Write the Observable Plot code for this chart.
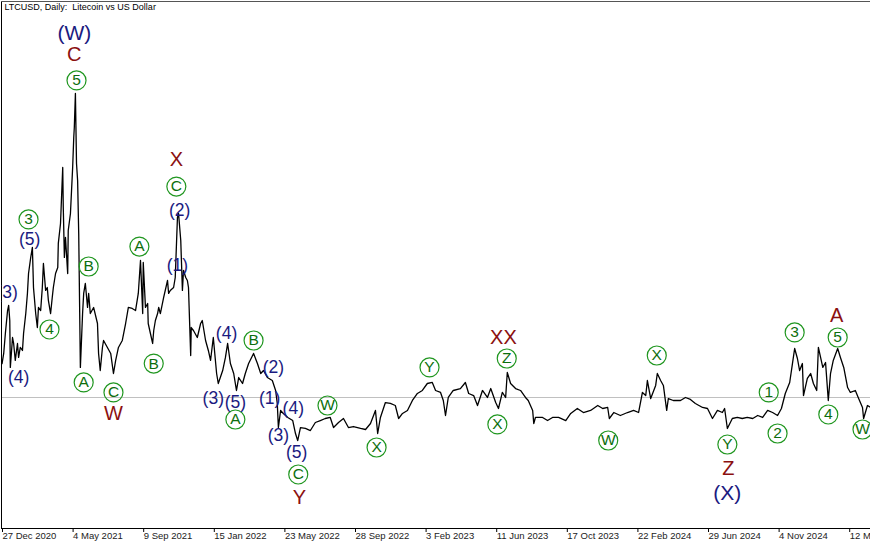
<!DOCTYPE html>
<html><head><meta charset="utf-8">
<script src="https://cdn.jsdelivr.net/npm/d3@7"></script>
<script src="https://cdn.jsdelivr.net/npm/@observablehq/plot@0.6"></script>
<style>
html,body{margin:0;padding:0;background:#fff}
#chart{width:870px;height:545px;overflow:hidden}
</style>
</head><body><div id="chart"></div>
<script>
const title = "LTCUSD, Daily:\u00a0 Litecoin vs US Dollar";

const dates = [
"2020-12-28","2020-12-31","2021-01-03","2021-01-07","2021-01-09","2021-01-11","2021-01-12","2021-01-16","2021-01-18","2021-01-21",
"2021-01-25","2021-01-27","2021-01-30","2021-02-03","2021-02-05","2021-02-09","2021-02-12","2021-02-14","2021-02-18","2021-02-21",
"2021-02-23","2021-02-27","2021-03-02","2021-03-04","2021-03-08","2021-03-11","2021-03-13","2021-03-17","2021-03-20","2021-03-22",
"2021-03-26","2021-03-29","2021-03-31","2021-04-04","2021-04-08","2021-04-09","2021-04-13","2021-04-17","2021-04-18","2021-04-20",
"2021-04-22","2021-04-26","2021-04-27","2021-05-01","2021-05-05","2021-05-07","2021-05-08","2021-05-10","2021-05-12","2021-05-14",
"2021-05-16","2021-05-19","2021-05-23","2021-05-25","2021-05-28","2021-06-01","2021-06-03","2021-06-06","2021-06-12","2021-06-19",
"2021-06-21","2021-06-24","2021-06-28","2021-06-30","2021-07-07","2021-07-13","2021-07-18","2021-07-22","2021-07-27","2021-08-03",
"2021-08-09","2021-08-14","2021-08-21","2021-08-27","2021-09-01","2021-09-05","2021-09-09","2021-09-10","2021-09-14","2021-09-18",
"2021-09-19","2021-09-23","2021-09-27","2021-09-29","2021-10-02","2021-10-06","2021-10-08","2021-10-11","2021-10-17","2021-10-24",
"2021-10-26","2021-10-29","2021-11-04","2021-11-07","2021-11-11","2021-11-13","2021-11-17","2021-11-20","2021-11-22","2021-11-26",
"2021-11-29","2021-12-01","2021-12-05","2021-12-06","2021-12-10","2021-12-17","2021-12-23","2021-12-26","2022-01-01","2022-01-06",
"2022-01-10","2022-01-15","2022-01-21","2022-01-24","2022-02-01","2022-02-06","2022-02-10","2022-02-15","2022-02-21","2022-02-26",
"2022-03-02","2022-03-09","2022-03-14","2022-03-20","2022-03-29","2022-04-05","2022-04-11","2022-04-16","2022-04-23","2022-05-02",
"2022-05-08","2022-05-11","2022-05-13","2022-05-17","2022-05-22","2022-05-30","2022-06-08","2022-06-13","2022-06-17","2022-06-22",
"2022-07-01","2022-07-10","2022-07-19","2022-07-28","2022-08-06","2022-08-15","2022-08-21","2022-08-30","2022-09-08","2022-09-17",
"2022-09-26","2022-10-09","2022-10-18","2022-10-27","2022-11-05","2022-11-09","2022-11-14","2022-11-23","2022-12-02","2022-12-11",
"2022-12-17","2022-12-24","2023-01-02","2023-01-11","2023-01-20","2023-01-29","2023-02-07","2023-02-16","2023-02-22","2023-03-03",
"2023-03-08","2023-03-12","2023-03-17","2023-03-26","2023-04-08","2023-04-17","2023-04-23","2023-05-02","2023-05-09","2023-05-18",
"2023-05-27","2023-06-02","2023-06-11","2023-06-16","2023-06-23","2023-06-29","2023-07-02","2023-07-08","2023-07-17","2023-07-26",
"2023-08-04","2023-08-09","2023-08-17","2023-08-19","2023-08-22","2023-09-04","2023-09-13","2023-09-22","2023-10-03","2023-10-16",
"2023-10-25","2023-11-06","2023-11-17","2023-11-30","2023-12-13","2023-12-22","2023-12-31","2024-01-03","2024-01-11","2024-01-23",
"2024-02-05","2024-02-16","2024-02-25","2024-03-03","2024-03-09","2024-03-12","2024-03-18","2024-03-27","2024-03-30","2024-04-05",
"2024-04-10","2024-04-16","2024-04-19","2024-04-28","2024-05-11","2024-05-20","2024-05-29","2024-06-07","2024-06-20","2024-06-29",
"2024-07-08","2024-07-17","2024-07-26","2024-07-30","2024-08-04","2024-08-13","2024-08-22","2024-08-31","2024-09-09","2024-09-19",
"2024-09-28","2024-10-07","2024-10-16","2024-10-25","2024-11-03","2024-11-10","2024-11-17","2024-11-25","2024-11-30","2024-12-04",
"2024-12-09","2024-12-13","2024-12-18","2024-12-20","2024-12-27","2025-01-02","2025-01-07","2025-01-13","2025-01-16","2025-01-24",
"2025-01-29","2025-02-03","2025-02-07","2025-02-12","2025-02-20","2025-02-25","2025-03-03","2025-03-10","2025-03-15","2025-03-24",
"2025-03-30","2025-04-06","2025-04-08","2025-04-15","2025-04-21"
];
const prices = [
122.5,133.3,154.7,179.3,184.7,168.6,118.3,150.4,144.0,125.8,
144.0,129.0,139.7,136.5,154.7,176.1,197.6,219.0,236.2,246.9,
204.0,176.1,161.1,182.6,179.3,204.0,229.7,200.8,204.0,190.1,
176.1,193.3,204.0,219.0,225.4,251.2,272.6,332.6,289.7,236.2,
257.6,219.0,265.1,283.3,332.6,364.8,375.5,411.9,336.9,318.7,
261.9,118.3,176.1,197.6,208.3,182.6,197.6,176.1,182.6,165.4,
133.3,115.0,139.7,147.2,139.7,133.3,111.8,125.8,139.7,147.2,
165.4,182.6,181.5,179.3,197.6,232.9,176.1,230.8,182.6,186.8,
165.4,154.7,144.0,157.9,168.6,176.1,182.6,176.1,193.3,211.5,
197.6,200.8,204.0,214.7,279.0,283.3,254.4,200.8,222.2,214.7,
211.5,204.0,131.1,161.1,157.9,150.4,165.4,168.6,147.2,136.5,
125.8,150.4,111.8,101.1,115.0,129.0,144.0,122.5,111.8,93.6,
107.5,101.1,111.8,122.5,133.3,122.5,111.8,115.0,107.5,104.3,
93.6,79.7,53.9,72.2,69.0,64.7,61.4,47.5,40.0,53.9,
52.9,50.7,59.3,61.4,63.6,64.7,53.9,59.3,63.6,53.9,
55.0,52.9,51.8,58.2,72.2,47.5,64.7,80.7,79.7,77.5,
63.6,69.0,72.2,82.9,90.4,93.6,101.1,102.2,93.6,91.5,
82.9,66.8,86.1,93.6,95.7,102.2,90.4,88.2,77.5,93.6,
86.1,95.7,80.7,74.3,91.5,86.1,112.9,101.1,95.7,93.6,
86.1,82.9,72.2,58.2,64.7,64.7,61.4,64.7,64.7,61.4,
69.0,74.3,70.0,72.2,77.5,74.3,75.4,63.6,70.0,66.8,
70.0,72.2,70.0,91.5,88.2,104.3,85.0,99.0,111.8,104.3,
99.0,72.2,85.0,82.9,82.9,86.1,84.0,79.7,75.4,74.3,
63.6,72.2,70.0,74.3,52.9,63.6,64.7,63.6,64.7,63.6,
66.8,64.7,72.2,70.0,66.8,74.3,90.4,102.2,122.5,138.6,
127.9,115.0,122.5,88.2,106.5,111.8,101.1,93.6,139.7,118.3,
123.6,82.9,111.8,125.8,138.6,129.0,118.3,96.8,91.5,93.6,
85.0,75.4,63.6,77.5,75.4
];
const bidPrice = 86.1;

const tickDates = ["2020-12-27","2021-05-04","2021-09-09","2022-01-15","2022-05-23","2022-09-28","2023-02-03","2023-06-11","2023-10-17","2024-02-22","2024-06-29","2024-11-04","2025-03-12"];
const tickLabels = ["27 Dec 2020","4 May 2021","9 Sep 2021","15 Jan 2022","23 May 2022","28 Sep 2022","3 Feb 2023","11 Jun 2023","17 Oct 2023","22 Feb 2024","29 Jun 2024","4 Nov 2024","12 Mar 2025"];

// circled (minor degree) labels
const circleText   = ["5","3","4","B","A","C","A","B","C","A","B","C","W","X","Y","X","Z","W","X","Y","1","2","3","4","5","W"];
const circleDates  = ["2021-05-12","2021-02-14","2021-03-24","2021-06-03","2021-05-25","2021-07-18","2021-09-03","2021-09-29","2021-11-09","2022-02-24","2022-03-29","2022-06-18","2022-08-10","2022-11-07","2023-02-11","2023-06-14","2023-07-01","2024-01-01","2024-03-29","2024-08-04","2024-10-18","2024-11-03","2024-12-04","2025-02-03","2025-02-20","2025-04-06"];
const circlePrices = [425.9,276.9,159.0,226.5,102.2,91.5,247.9,122.5,312.2,62.5,147.2,3.6,77.5,32.5,118.3,57.2,127.9,40.0,131.1,35.7,91.5,47.5,155.8,67.9,150.4,51.8];

// parenthesised (intermediate degree) labels
const parenText   = ["(3)","(5)","(4)","(2)","(1)","(4)","(3)","(5)","(2)","(1)","(4)","(3)","(5)"];
const parenDates  = ["2021-01-06","2021-02-16","2021-01-27","2021-11-15","2021-11-11","2022-02-08","2022-01-15","2022-02-24","2022-05-04","2022-04-27","2022-06-09","2022-05-13","2022-06-15"];
const parenPrices = [198.6,255.4,107.5,286.5,227.6,154.7,85.0,80.7,118.3,85.0,74.3,45.4,27.1];

// primary degree labels (dark red)
const redText   = ["C","W","X","Y","XX","Z","A"];
const redDates  = ["2021-05-08","2021-07-18","2021-11-09","2022-06-20","2023-06-25","2024-08-06","2025-02-18"];
const redPrices = [453.7,69.0,341.2,-21.1,150.4,10.0,174.0];

// cycle degree labels (navy, large)
const bigText   = ["(W)","(X)"];
const bigDates  = ["2021-05-08","2024-08-04"];
const bigPrices = [476.2,-16.8];

const parse = s => new Date(s + "T00:00:00Z");
const series = dates.map((d, i) => ({date: parse(d), price: prices[i]}));
const circles = circleText.map((t, i) => ({text: t, date: parse(circleDates[i]), price: circlePrices[i]}));
const parens = parenText.map((t, i) => ({text: t, date: parse(parenDates[i]), price: parenPrices[i]}));
const reds = redText.map((t, i) => ({text: t, date: parse(redDates[i]), price: redPrices[i]}));
const bigs = bigText.map((t, i) => ({text: t, date: parse(bigDates[i]), price: bigPrices[i]}));
const ticks = tickDates.map(parse);
const labelOf = new Map(ticks.map((d, i) => [+d, tickLabels[i]]));

const FONT = "Liberation Sans, Arial, sans-serif";
const chart = Plot.plot({
  width: 870, height: 545,
  marginLeft: 1, marginRight: 0, marginTop: 1, marginBottom: 17,
  style: {fontFamily: FONT, background: "#fff", overflow: "hidden"},
  x: {type: "utc", domain: [parse("2020-12-27"), new Date("2025-04-20T12:00:00Z")], axis: null},
  y: {domain: [-54.3, 510.5], axis: null},
  marks: [
    Plot.ruleY([bidPrice], {stroke: "#c0c0c0", strokeWidth: 1}),
    Plot.line(series, {x: "date", y: "price", stroke: "#000", strokeWidth: 1.3, clip: true}),
    Plot.frame({anchor: "left", stroke: "#000"}),
    Plot.frame({anchor: "top", stroke: "#555"}),
    Plot.frame({anchor: "bottom", stroke: "#000"}),
    Plot.axisX(ticks, {tickSize: 4, tickPadding: 0, tickFormat: d => labelOf.get(+d), textAnchor: "start", dx: 1, fontSize: 9.5, fill: "#222", stroke: "#000"}),
    Plot.dot(circles, {x: "date", y: "price", r: 9.5, stroke: "#1f961f", strokeWidth: 1.2, fill: "none"}),
    Plot.text(circles, {x: "date", y: "price", text: "text", fill: "#0d6e0d", fontSize: 15.5}),
    Plot.text(parens, {x: "date", y: "price", text: "text", fill: "#1a1a80", fontSize: 17.5, clip: true}),
    Plot.text(reds, {x: "date", y: "price", text: "text", fill: "#8b1010", fontSize: 20}),
    Plot.text(bigs, {x: "date", y: "price", text: "text", fill: "#1a1a80", fontSize: 21}),
    Plot.text([title], {frameAnchor: "top-left", dx: 3, dy: 2, textAnchor: "start", lineAnchor: "top", fontSize: 9, fill: "#000"})
  ]
});
document.getElementById("chart").appendChild(chart);
</script>
</body></html>
